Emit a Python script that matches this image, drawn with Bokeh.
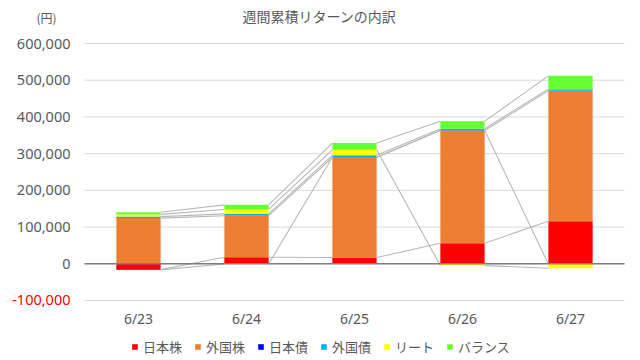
from bokeh.plotting import figure
from bokeh.models import Legend, LegendItem, Label, Range1d
from bokeh.embed import file_html
from bokeh.resources import INLINE

# ---- data ----
dates = ["6/23", "6/24", "6/25", "6/26", "6/27"]
series_names = ["日本株", "外国株", "日本債", "外国債", "リート", "バランス"]
jp_stock = [-16000, 18000, 17000, 56000, 116000]
fx_stock = [124500, 113000, 272500, 307000, 355000]
jp_bond = [-700, -500, 500, 500, -500]
fx_bond = [4000, 5000, 5500, 4500, 4600]
reit = [6000, 12000, 15000, -5000, -11500]
balance = [6000, 12500, 18300, 20000, 36300]
colors = ["#FF0000", "#ED7D31", "#0000FF", "#00B0F0", "#FFFF00", "#66FF33"]
y_ticks = [-100000, 0, 100000, 200000, 300000, 400000, 500000, 600000]
y_tick_labels = ["-100,000", "0", "100,000", "200,000", "300,000", "400,000", "500,000", "600,000"]
y_tick_colors = ["#FF0000"] + ["#595959"] * 7
unit_label = "(円)"
title_text = "週間累積リターンの内訳"

series = [jp_stock, fx_stock, jp_bond, fx_bond, reit, balance]
xs = list(range(1, len(dates) + 1))
BAR_W = 0.41
TXT = "#595959"
JP = "Noto Sans CJK JP"
NUM = "Noto Sans"

# plot area spans x 0.5..5.5 and y -100000..600000; the frame covers the whole
# canvas so that the texts around the plot area are not clipped
X0, X1 = 0.5, 5.5
YMIN, YMAX = y_ticks[0], y_ticks[-1]
p = figure(width=632, height=358, x_range=Range1d(-0.2778, 5.5741),
           y_range=Range1d(-257977, 717121), x_axis_location=None, y_axis_location=None,
           output_backend="svg", toolbar_location=None,
           min_border_left=0, min_border_right=0, min_border_top=0, min_border_bottom=0)
p.outline_line_color = None
p.grid.grid_line_color = None

# horizontal grid lines across the plot area
p.segment(x0=[X0] * len(y_ticks), x1=[X1] * len(y_ticks), y0=y_ticks, y1=y_ticks,
          line_color="#D9D9D9", line_width=1)

# stacked bars (positives up from 0, negatives down from 0)
pos = [0.0] * len(xs)
neg = [0.0] * len(xs)
ends = []
renderers = []
for vals, col in zip(series, colors):
    tops, bots, e = [], [], []
    for j, v in enumerate(vals):
        if v >= 0:
            bots.append(pos[j]); tops.append(pos[j] + v); pos[j] += v; e.append(pos[j])
        else:
            tops.append(neg[j]); bots.append(neg[j] + v); neg[j] += v; e.append(neg[j])
    r = p.vbar(x=xs, width=BAR_W, top=tops, bottom=bots, fill_color=col, line_color=None)
    renderers.append(r)
    ends.append(e)

# series lines
x0, y0, x1, y1 = [], [], [], []
for e in ends:
    for j in range(len(xs) - 1):
        x0.append(xs[j] + BAR_W / 2); y0.append(e[j])
        x1.append(xs[j + 1] - BAR_W / 2); y1.append(e[j + 1])
p.segment(x0=x0, y0=y0, x1=x1, y1=y1, line_color="#B8B8B8", line_width=1.1)

# zero line
p.segment(x0=[X0], x1=[X1], y0=[0], y1=[0], line_color="#7F7F7F", line_width=1.5)

# y tick labels
p.text(x=[X0] * len(y_ticks), y=y_ticks, text=y_tick_labels, x_offset=-14,
       text_align="right", text_baseline="middle", text_color=y_tick_colors,
       text_font={"value": NUM}, text_font_size="14.5px")

# x tick labels (category names under the plot area)
p.text(x=xs, y=[YMIN] * len(xs), text=dates, y_offset=9,
       text_align="center", text_baseline="top", text_color=TXT,
       text_font={"value": NUM}, text_font_size="14px")

# titles
p.add_layout(Label(x=3, y=YMAX, x_offset=-35, y_offset=28, text=title_text,
                   text_align="center", text_baseline="middle", text_color=TXT,
                   text_font=JP, text_font_size="14px"))
p.add_layout(Label(x=X0, y=YMAX, x_offset=-38, y_offset=26, text=unit_label,
                   text_align="center", text_baseline="middle", text_color=TXT,
                   text_font=JP, text_font_size="12px"))

legend = Legend(items=[LegendItem(label=n, renderers=[r]) for n, r in zip(series_names, renderers)],
                orientation="horizontal", location=(131, 2), padding=2, margin=0,
                spacing=12, glyph_width=7, glyph_height=7, label_standoff=5,
                label_height=14, label_text_baseline="middle",
                label_text_font=JP, label_text_font_size="13px", label_text_color=TXT,
                border_line_color=None, background_fill_alpha=0)
p.add_layout(legend, "center")

open("out.html", "w").write(file_html(p, INLINE))
